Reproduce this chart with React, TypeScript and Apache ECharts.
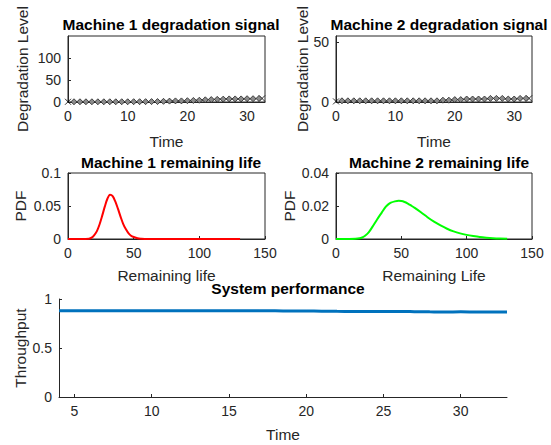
import React, { useEffect, useRef } from "react";
import * as echarts from "echarts";

const timeSteps = [1,2,3,4,5,6,7,8,9,10,11,12,13,14,15,16,17,18,19,20,21,22,23,24,25,26,27,28,29,30,31,32];
const machine1Signal = [0.5,0.5,0.5,0.5,0.5,0.5,0.5,0.5,0.6,0.6,0.7,0.7,0.8,0.9,1,1.5,2,2.5,2.5,3,3.5,4,5,5.5,6,6.5,7,7,7,7.5,7.5,8];
const machine2Signal = [1,1,1,1,1,1,1,1,1,1,1,1,1,1,1,1,1,1.5,1.5,2,2,2.5,2.5,2.5,2.5,3,3,3,2.5,2.5,3,3];
const endMarkerTimes = [0, 32.5];
const endMarker1 = [0.5, 8];
const endMarker2 = [0.5, 3];

const rl1X = [0,10,16,18,20,22,24,26,28,30,32,34,36,38,40,42,44,46,48,50,53,56,60,70,80,90,100,110,120,131];
const rl1Y = [0,0,0.0005,0.002,0.006,0.012,0.022,0.035,0.049,0.061,0.067,0.065,0.057,0.046,0.034,0.023,0.015,0.009,0.005,0.003,0.001,0.0004,0,0,0,0,0,0,0,0];

const rl2X = [0,10,15,18,20,22,25,28,30,32,35,38,40,42,45,48,50,52,55,58,60,65,70,75,80,85,90,95,100,105,110,115,120,125,131];
const rl2Y = [0,0,0.0001,0.0004,0.0009,0.0018,0.004,0.0075,0.010,0.0125,0.016,0.0195,0.021,0.022,0.0228,0.0232,0.023,0.0226,0.0215,0.020,0.019,0.0162,0.0132,0.0105,0.0082,0.0062,0.0046,0.0034,0.0025,0.0018,0.0012,0.0008,0.0005,0.0003,0.0002];

const perfTime = [4,5,6,7,8,9,10,11,12,13,14,15,16,17,18,19,20,21,22,23,24,25,26,27,28,29,30,31,32,33];
const perfValues = [0.880,0.880,0.880,0.880,0.880,0.880,0.880,0.880,0.880,0.880,0.880,0.881,0.881,0.880,0.879,0.878,0.877,0.876,0.874,0.873,0.872,0.872,0.872,0.871,0.869,0.868,0.869,0.868,0.867,0.867];

const sigTicksX = [0, 10, 20, 30];
const sig1TicksY = [0, 50, 100];
const sig2TicksY = [0, 50];
const rlTicksX = [0, 50, 100, 150];
const rl1TicksY = [0, 0.05, 0.1];
const rl2TicksY = [0, 0.02, 0.04];
const perfTicksX = [5, 10, 15, 20, 25, 30];
const perfTicksY = [0, 0.5, 1];

const FONT = "Liberation Sans, Arial, Helvetica, sans-serif";
const TXT = "#262626";

function pair(xs: number[], ys: number[]) {
  return xs.map((x, i) => [x, ys[i]]);
}

function axis(
  gridIndex: number,
  min: number,
  max: number,
  ticks: number[],
  name: string,
  nameGap: number,
  rotate: boolean
) {
  return {
    type: "value",
    gridIndex,
    min,
    max,
    name,
    nameLocation: "middle",
    nameGap,
    nameMoveOverlap: false,
    nameRotate: rotate ? 90 : 0,
    nameTextStyle: { color: TXT, fontSize: 15.5, fontFamily: FONT },
    axisLine: { show: true, onZero: false, lineStyle: { color: TXT, width: 1 } },
    axisTick: { show: true, inside: true, length: 3, customValues: ticks, lineStyle: { color: TXT } },
    axisLabel: {
      show: true,
      customValues: ticks,
      color: TXT,
      fontSize: 14,
      fontFamily: FONT,
      margin: 7,
      formatter: (v: number) => String(v),
    },
    splitLine: { show: false },
  };
}

export default function App() {
  const ref = useRef<HTMLDivElement>(null);
  useEffect(() => {
    if (!ref.current) return;
    const chart = echarts.init(ref.current, null, { renderer: "svg" });
    const titleStyle = { color: "#000", fontSize: 15.5, fontWeight: "bold", fontFamily: FONT };
    const diamondSeries = (xi: number, data: number[][]) => ({
      type: "line",
      xAxisIndex: xi,
      yAxisIndex: xi,
      data,
      symbol: "diamond",
      symbolSize: 6,
      lineStyle: { color: "#000", width: 1 },
      itemStyle: { color: "#8c8c8c", borderColor: "#222", borderWidth: 0.8 },
    });
    const xSeries = (xi: number, data: number[][]) => ({
      type: "scatter",
      xAxisIndex: xi,
      yAxisIndex: xi,
      data,
      symbol: "path://M0,0L10,10M10,0L0,10",
      symbolSize: 6,
      itemStyle: { color: "none", borderColor: "#000", borderWidth: 1 },
    });
    chart.setOption({
      animation: false,
      backgroundColor: "#fff",
      title: [
        { text: "Machine 1 degradation signal", left: 166, top: 11, textAlign: "center", textStyle: titleStyle },
        { text: "Machine 2 degradation signal", left: 434, top: 11, textAlign: "center", textStyle: titleStyle },
        { text: "Machine 1 remaining life", left: 166, top: 149, textAlign: "center", textStyle: titleStyle },
        { text: "Machine 2 remaining life", left: 434, top: 149, textAlign: "center", textStyle: titleStyle },
        { text: "System performance", left: 283, top: 275, textAlign: "center", textStyle: titleStyle },
      ],
      grid: [
        { left: 68, top: 36, width: 197, height: 66, show: true, borderColor: TXT, borderWidth: 1 },
        { left: 336, top: 36, width: 196, height: 66, show: true, borderColor: TXT, borderWidth: 1 },
        { left: 68, top: 173, width: 197, height: 66, show: true, borderColor: TXT, borderWidth: 1 },
        { left: 336, top: 173, width: 196, height: 66, show: true, borderColor: TXT, borderWidth: 1 },
        { left: 59, top: 299, width: 448, height: 98 },
      ],
      xAxis: [
        axis(0, 0, 33, sigTicksX, "Time", 31, false),
        axis(1, 0, 33, sigTicksX, "Time", 31, false),
        axis(2, 0, 150, rlTicksX, "Remaining life", 28, false),
        axis(3, 0, 150, rlTicksX, "Remaining Life", 28, false),
        axis(4, 4, 33, perfTicksX, "Time", 29, false),
      ],
      yAxis: [
        axis(0, 0, 150, sig1TicksY, "Degradation Level", 38, true),
        axis(1, 0, 55, sig2TicksY, "Degradation Level", 26, true),
        axis(2, 0, 0.1, rl1TicksY, "PDF", 40, true),
        axis(3, 0, 0.04, rl2TicksY, "PDF", 39, true),
        axis(4, 0, 1, perfTicksY, "Throughput", 31, true),
      ],
      series: [
        diamondSeries(0, pair(timeSteps, machine1Signal)),
        xSeries(0, pair(endMarkerTimes, endMarker1)),
        diamondSeries(1, pair(timeSteps, machine2Signal)),
        xSeries(1, pair(endMarkerTimes, endMarker2)),
        {
          type: "line",
          xAxisIndex: 2,
          yAxisIndex: 2,
          data: pair(rl1X, rl1Y),
          smooth: 0.3,
          symbol: "none",
          lineStyle: { color: "#ff0000", width: 2 },
        },
        {
          type: "line",
          xAxisIndex: 3,
          yAxisIndex: 3,
          data: pair(rl2X, rl2Y),
          smooth: 0.3,
          symbol: "none",
          lineStyle: { color: "#00ff00", width: 2 },
        },
        {
          type: "line",
          xAxisIndex: 4,
          yAxisIndex: 4,
          data: pair(perfTime, perfValues),
          smooth: true,
          symbol: "none",
          lineStyle: { color: "#0072BD", width: 3 },
        },
      ],
    });
    return () => chart.dispose();
  }, []);
  return (
    <div
      ref={ref}
      style={{ position: "fixed", left: 0, top: 0, width: 551, height: 445 }}
    />
  );
}
